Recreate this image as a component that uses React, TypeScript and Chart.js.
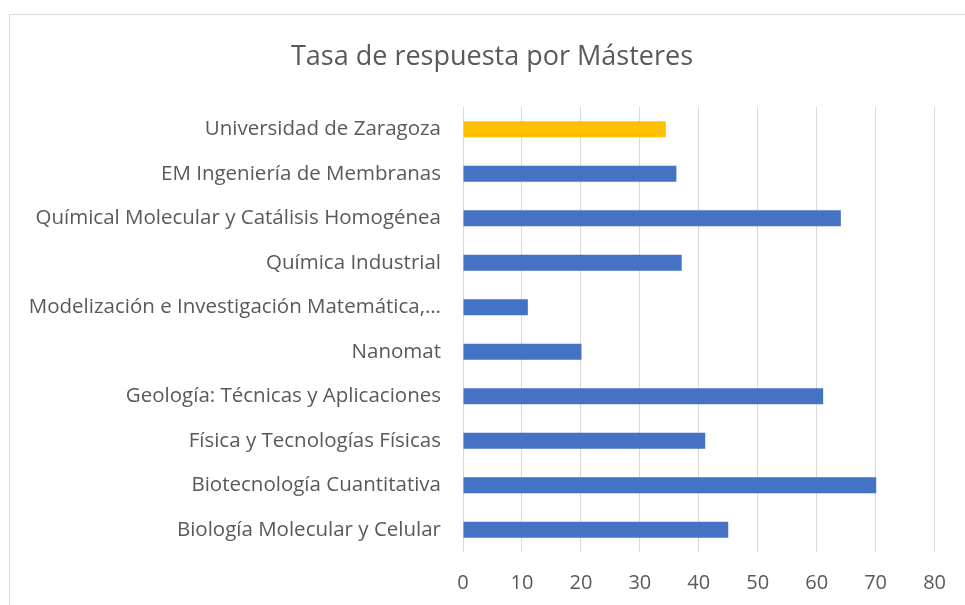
import React, { useEffect, useRef } from "react";
import { Chart, registerables } from "chart.js";

Chart.register(...registerables);

const categories = [
  "Universidad de Zaragoza",
  "EM Ingeniería de Membranas",
  "Químical Molecular y Catálisis Homogénea",
  "Química Industrial",
  "Modelización e Investigación Matemática,…",
  "Nanomat",
  "Geología: Técnicas y Aplicaciones",
  "Física y Tecnologías Físicas",
  "Biotecnología Cuantitativa",
  "Biología Molecular y Celular",
];

const tasaValues = [34.4, 36.2, 64.1, 37.1, 11, 20.1, 61.1, 41.1, 70.1, 45];

const xTicks = [0, 10, 20, 30, 40, 50, 60, 70, 80];

const chartTitle = "Tasa de respuesta por Másteres";

const barColors = categories.map((_, i) => (i === 0 ? "#FFC000" : "#4472C4"));

const FONT = "'Open Sans', 'Noto Sans', sans-serif";

const titlePlugin = {
  id: "offsetTitle",
  afterDraw(chart: any) {
    const ctx = chart.ctx;
    ctx.save();
    ctx.font = `normal 27px ${FONT}`;
    ctx.fillStyle = "#595959";
    ctx.textAlign = "center";
    ctx.textBaseline = "middle";
    ctx.fillText(chartTitle, 492, 57);
    ctx.restore();
  },
};

export default function App() {
  const ref = useRef<HTMLCanvasElement | null>(null);

  useEffect(() => {
    if (!ref.current) return;
    const chart = new Chart(ref.current, {
      type: "bar",
      data: {
        labels: categories,
        datasets: [
          {
            label: "Tasa de respuesta",
            data: tasaValues,
            backgroundColor: barColors,
            borderWidth: 0,
            categoryPercentage: 1,
            barPercentage: 0.355,
          },
        ],
      },
      options: {
        indexAxis: "y",
        responsive: false,
        animation: false,
        devicePixelRatio: 1,
        layout: { padding: { left: 0, right: 29, top: 107, bottom: 0 } },
        plugins: {
          legend: { display: false },
          tooltip: { enabled: false },
          title: { display: false },
        },
        scales: {
          x: {
            min: xTicks[0],
            max: xTicks[xTicks.length - 1],
            afterBuildTicks: (scale: any) => {
              scale.ticks = xTicks.map((v) => ({ value: v }));
            },
            afterFit: (scale: any) => {
              scale.height = 53;
            },
            grid: { color: "#D9D9D9", lineWidth: 1, drawTicks: false },
            border: { display: false },
            ticks: {
              color: "#595959",
              font: { family: FONT, size: 20 },
              padding: 19,
            },
          },
          y: {
            afterFit: (scale: any) => {
              scale.width = 463;
            },
            grid: { display: false, drawTicks: false },
            border: { display: false },
            ticks: {
              color: "#595959",
              font: { family: FONT, size: 20.5 },
              padding: 22,
            },
          },
        },
      },
      plugins: [titlePlugin],
    });
    return () => chart.destroy();
  }, []);

  return (
    <div
      style={{
        position: "fixed",
        left: 0,
        top: 0,
        width: 965,
        height: 605,
        overflow: "hidden",
        background: "#fff",
      }}
    >
      <div
        style={{
          position: "absolute",
          left: 9,
          top: 14,
          width: 1000,
          height: 700,
          border: "1px solid #D9D9D9",
          boxSizing: "border-box",
        }}
      />
      <canvas
        ref={ref}
        width={965}
        height={605}
        style={{ position: "absolute", left: 0, top: 0, width: 965, height: 605 }}
      />
    </div>
  );
}
